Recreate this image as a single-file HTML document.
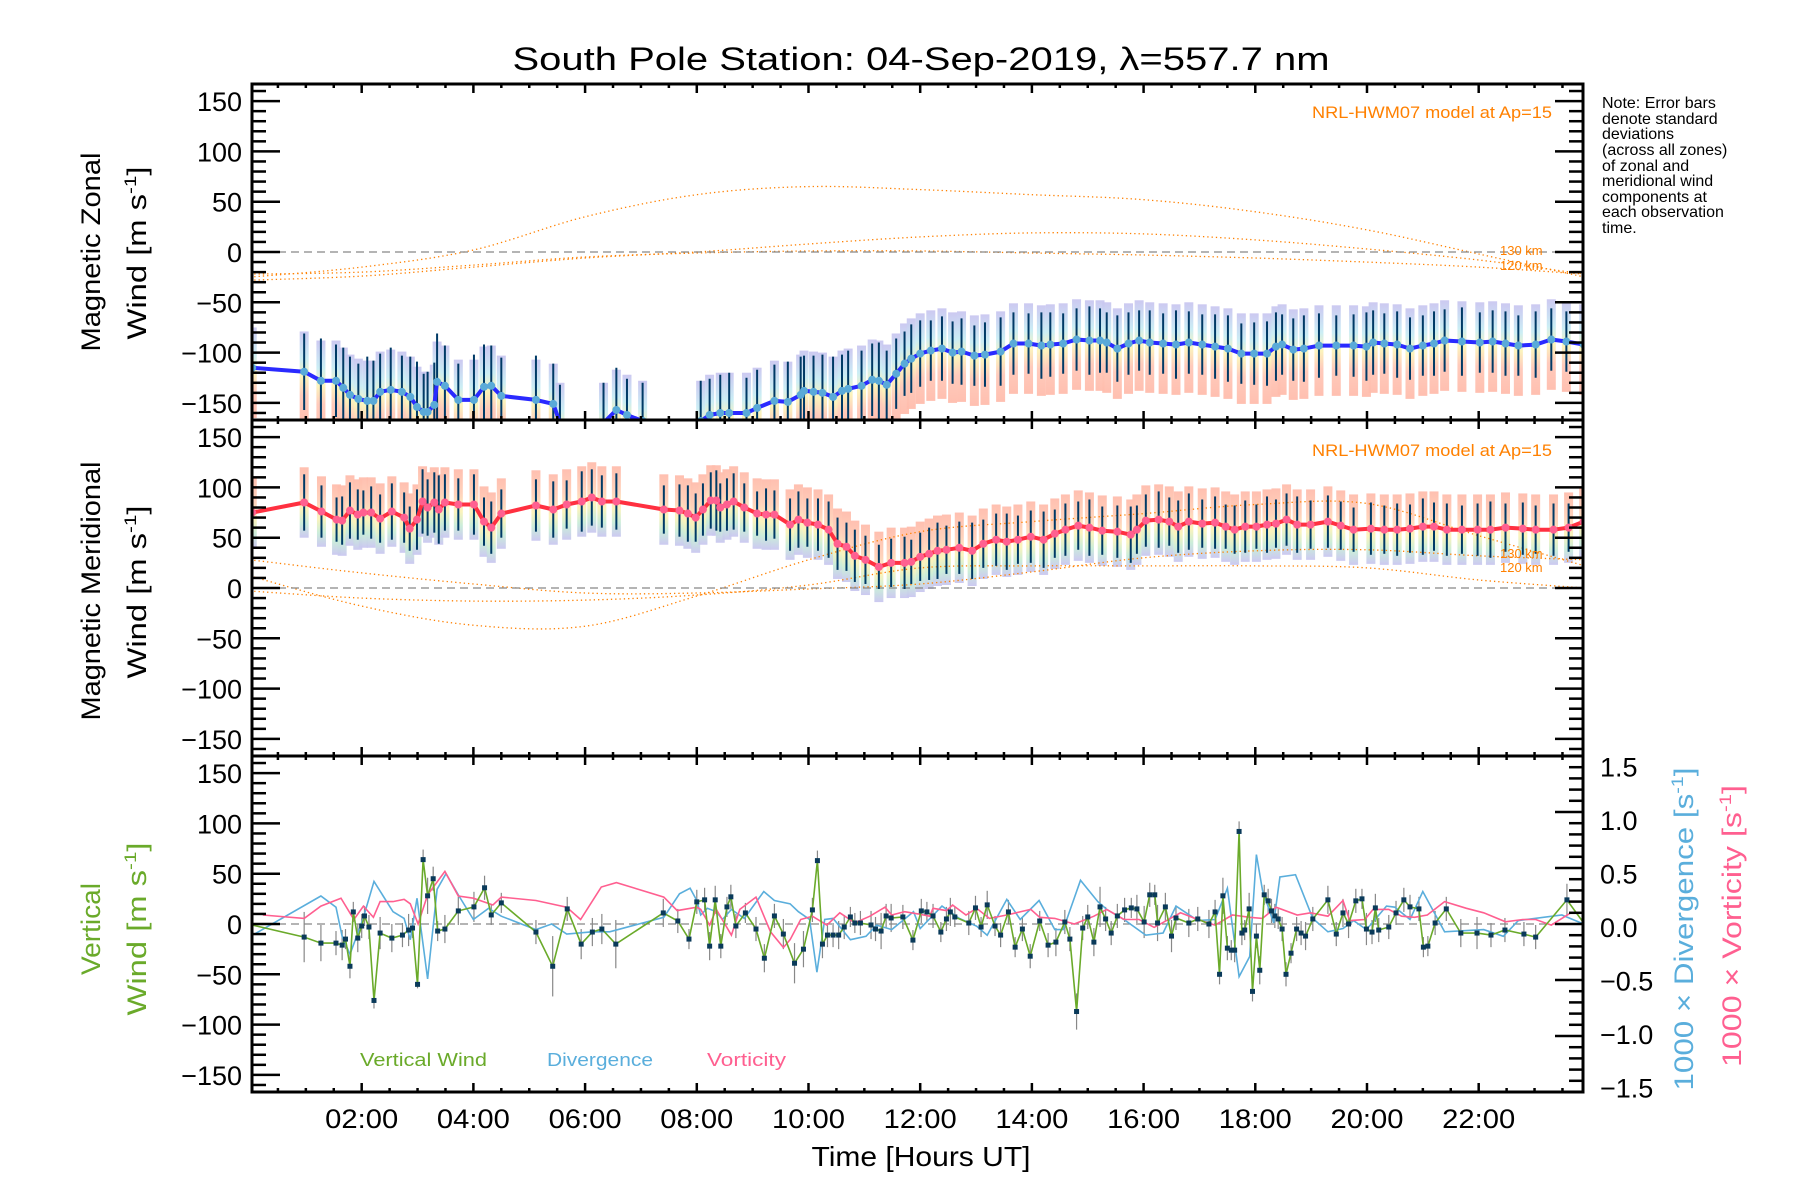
<!DOCTYPE html>
<html><head><meta charset="utf-8">
<style>
html,body{margin:0;padding:0;background:#fff;}
svg{display:block;font-family:"Liberation Sans",sans-serif;}
</style></head>
<body>
<svg id="chart" width="1800" height="1200" viewBox="0 0 1800 1200" xmlns="http://www.w3.org/2000/svg">
<defs>
<clipPath id="clip0"><rect x="252" y="84" width="1331" height="336"/></clipPath>
<clipPath id="clip1"><rect x="252" y="420" width="1331" height="336"/></clipPath>
<clipPath id="clip2"><rect x="252" y="756" width="1331" height="336"/></clipPath>
<linearGradient id="gZon" x1="0" y1="0" x2="0" y2="1">
<stop offset="0" stop-color="#c9c6f0"/><stop offset="0.3" stop-color="#c8ecf4"/><stop offset="0.5" stop-color="#fbf3b8"/><stop offset="0.7" stop-color="#ffc8b8"/><stop offset="1" stop-color="#ffbcac"/></linearGradient>
<linearGradient id="gMer" x1="0" y1="0" x2="0" y2="1">
<stop offset="0" stop-color="#ffbcac"/><stop offset="0.35" stop-color="#ffd0b8"/><stop offset="0.6" stop-color="#fbf3b8"/><stop offset="0.8" stop-color="#c8ecd8"/><stop offset="1" stop-color="#c9c6f0"/></linearGradient>
</defs>
<text x="921" y="70" font-size="32" text-anchor="middle" textLength="817" lengthAdjust="spacingAndGlyphs">South Pole Station: 04-Sep-2019, λ=557.7 nm</text>
<g id="layer-data"></g>
<g id="layer-axes"></g>
<g font-size="16" fill="#000">
<text x="1602" y="108">Note: Error bars</text>
<text x="1602" y="124">denote standard</text>
<text x="1602" y="139">deviations</text>
<text x="1602" y="155">(across all zones)</text>
<text x="1602" y="171">of zonal and</text>
<text x="1602" y="186">meridional wind</text>
<text x="1602" y="202">components at</text>
<text x="1602" y="217">each observation</text>
<text x="1602" y="233">time.</text>
</g>
<text x="1552" y="118" font-size="17" fill="#ff8000" text-anchor="end" textLength="240" lengthAdjust="spacingAndGlyphs">NRL-HWM07 model at Ap=15</text>
<text x="1552" y="456" font-size="17" fill="#ff8000" text-anchor="end" textLength="240" lengthAdjust="spacingAndGlyphs">NRL-HWM07 model at Ap=15</text>
<g font-size="13" fill="#ff8000">
<text x="1500" y="255">130 km</text>
<text x="1500" y="270">120 km</text>
<text x="1500" y="558">130 km</text>
<text x="1500" y="572">120 km</text>
</g>
<g font-size="18">
<text x="360" y="1066" fill="#6aaa2a" textLength="127" lengthAdjust="spacingAndGlyphs">Vertical Wind</text>
<text x="547" y="1066" fill="#5aaedc" textLength="106" lengthAdjust="spacingAndGlyphs">Divergence</text>
<text x="707" y="1066" fill="#ff5f90" textLength="79" lengthAdjust="spacingAndGlyphs">Vorticity</text>
</g>
<text x="921" y="1166" font-size="28" text-anchor="middle" textLength="219" lengthAdjust="spacingAndGlyphs">Time [Hours UT]</text>
<g font-size="27">
<text transform="translate(100,252) rotate(-90)" text-anchor="middle" textLength="199" lengthAdjust="spacingAndGlyphs">Magnetic Zonal</text>
<text transform="translate(146,253) rotate(-90)" text-anchor="middle" textLength="173" lengthAdjust="spacingAndGlyphs">Wind [m s<tspan font-size="17" dy="-10">-1</tspan><tspan dy="10">]</tspan></text>
<text transform="translate(100,591) rotate(-90)" text-anchor="middle" textLength="259" lengthAdjust="spacingAndGlyphs">Magnetic Meridional</text>
<text transform="translate(146,592) rotate(-90)" text-anchor="middle" textLength="173" lengthAdjust="spacingAndGlyphs">Wind [m s<tspan font-size="17" dy="-10">-1</tspan><tspan dy="10">]</tspan></text>
<text transform="translate(100,929) rotate(-90)" text-anchor="middle" fill="#6aaa2a" textLength="92" lengthAdjust="spacingAndGlyphs">Vertical</text>
<text transform="translate(146,929) rotate(-90)" text-anchor="middle" fill="#6aaa2a" textLength="173" lengthAdjust="spacingAndGlyphs">Wind [m s<tspan font-size="17" dy="-10">-1</tspan><tspan dy="10">]</tspan></text>
<text transform="translate(1693,929) rotate(-90)" text-anchor="middle" fill="#5aaedc" textLength="323" lengthAdjust="spacingAndGlyphs">1000 × Divergence [s<tspan font-size="17" dy="-10">-1</tspan><tspan dy="10">]</tspan></text>
<text transform="translate(1741,926) rotate(-90)" text-anchor="middle" fill="#ff5f90" textLength="282" lengthAdjust="spacingAndGlyphs">1000 × Vorticity [s<tspan font-size="17" dy="-10">-1</tspan><tspan dy="10">]</tspan></text>
</g>
</svg>
<script>
// ---- data ----
const zonalT = [0.04,0.97,1.27,1.54,1.67,1.79,1.94,2.10,2.21,2.33,2.52,2.72,2.87,2.99,3.11,3.18,3.30,3.35,3.49,3.73,4.01,4.19,4.32,4.50,5.12,5.43,5.55,6.33,6.56,6.75,7.03,8.07,8.23,8.42,8.58,8.89,9.08,9.39,9.63,9.86,9.92,10.09,10.25,10.44,10.60,10.71,10.95,11.14,11.26,11.40,11.57,11.72,11.84,12.00,12.19,12.39,12.58,12.74,12.97,13.16,13.44,13.67,13.94,14.17,14.33,14.56,14.80,15.03,15.22,15.34,15.53,15.73,15.92,16.11,16.35,16.58,16.81,17.05,17.28,17.51,17.75,17.98,18.21,18.37,18.48,18.68,18.87,19.14,19.45,19.76,19.99,20.11,20.31,20.54,20.77,21.00,21.20,21.39,21.70,22.02,22.25,22.48,22.71,23.02,23.30,23.57,23.88];
const zonalV = [-115,-119,-128,-128,-135,-142,-146,-148,-148,-139,-137,-139,-144,-154,-159,-159,-152,-129,-133,-147,-147,-134,-133,-143,-147,-151,-170,-170,-157,-162,-168,-168,-162,-160,-160,-160,-155,-148,-149,-142,-138,-139,-140,-144,-138,-136,-133,-127,-128,-132,-121,-111,-106,-101,-98,-96,-100,-99,-103,-102,-99,-91,-91,-93,-92,-91,-87,-88,-88,-90,-96,-91,-88,-90,-91,-92,-90,-92,-94,-96,-101,-101,-101,-94,-92,-97,-96,-93,-93,-93,-94,-90,-91,-92,-96,-93,-91,-88,-89,-90,-89,-91,-93,-92,-87,-89,-92];
const zonalErr = [40,38,42,36,40,38,35,44,40,38,42,36,40,45,38,40,42,48,40,36,45,42,40,38,44,40,38,40,42,36,38,40,36,38,40,35,38,36,40,38,35,36,38,40,36,38,35,36,38,34,35,32,34,33,30,32,31,33,30,32,34,31,30,33,32,30,31,34,32,30,33,31,30,32,30,34,31,30,32,33,30,31,32,34,30,31,33,32,30,31,34,32,30,33,31,30,32,31,34,30,31,32,30,33,31,30,32];
const meridT = [0.04,0.97,1.28,1.55,1.65,1.79,1.93,2.03,2.17,2.33,2.54,2.76,2.86,2.99,3.09,3.18,3.30,3.38,3.49,3.73,4.01,4.19,4.32,4.50,5.12,5.43,5.67,5.94,6.12,6.30,6.56,7.41,7.69,7.84,7.98,8.11,8.25,8.35,8.42,8.54,8.66,8.85,9.08,9.24,9.39,9.67,9.82,9.98,10.17,10.36,10.52,10.68,10.83,11.02,11.26,11.48,11.72,11.84,12.00,12.16,12.31,12.47,12.70,12.93,13.13,13.36,13.55,13.75,13.98,14.21,14.41,14.60,14.83,15.03,15.26,15.53,15.77,15.88,16.04,16.27,16.46,16.62,16.81,17.05,17.28,17.47,17.63,17.82,18.02,18.21,18.37,18.56,18.75,18.99,19.30,19.53,19.76,20.07,20.31,20.54,20.77,21.00,21.20,21.43,21.70,21.98,22.21,22.48,22.79,23.02,23.34,23.61,23.88];
const meridV = [75,85,76,68,67,77,73,75,75,69,76,70,59,68,86,80,85,78,85,83,83,66,60,74,82,78,83,86,90,86,86,78,77,74,70,78,87,87,80,83,86,80,74,73,73,63,68,65,63,58,44,41,32,28,21,25,25,26,31,34,37,38,40,37,44,48,46,48,51,48,54,58,62,60,57,56,53,58,67,68,66,61,66,64,65,61,58,61,61,63,64,68,63,63,66,62,58,59,58,58,59,61,61,58,58,58,58,60,59,58,58,60,66];
const meridErr = [30,28,26,22,24,28,25,22,26,24,28,25,22,30,32,28,30,34,28,26,30,24,26,24,26,28,24,30,28,26,28,24,26,28,24,26,28,30,24,26,28,24,22,26,24,26,28,24,26,28,26,24,26,24,22,24,26,22,24,26,28,24,26,28,24,26,28,24,26,28,24,26,24,28,24,26,28,24,26,28,24,26,28,24,26,22,24,26,22,28,24,26,28,24,26,24,22,26,24,26,24,28,24,26,24,26,28,24,26,24,26,24,26];
const vwT = [0.04,0.97,1.27,1.54,1.65,1.71,1.79,1.85,1.93,2.00,
 2.05,2.13,2.22,2.33,2.54,2.73,2.84,2.91,3.00,3.10,
 3.18,3.28,3.36,3.49,3.73,4.01,4.20,4.32,4.50,5.12,
 5.42,5.68,5.93,6.13,6.30,6.55,7.40,7.66,7.86,8.00,
 8.14,8.23,8.33,8.43,8.54,8.61,8.70,8.87,9.06,9.21,
 9.39,9.55,9.75,9.91,10.07,10.16,10.25,10.34,10.44,10.54,
 10.64,10.75,10.83,10.93,11.12,11.20,11.30,11.39,11.48,11.69,
 11.87,12.02,12.12,12.23,12.37,12.47,12.54,12.62,12.87,12.99,
 13.09,13.20,13.34,13.44,13.58,13.70,13.83,13.97,14.14,14.29,
 14.43,14.59,14.68,14.80,14.91,15.00,15.11,15.22,15.32,15.42,
 15.53,15.66,15.78,15.88,16.01,16.11,16.20,16.25,16.39,16.50,
 16.58,16.81,16.97,17.17,17.28,17.36,17.42,17.50,17.57,17.63,
 17.71,17.76,17.81,17.89,17.95,18.02,18.08,18.16,18.23,18.29,
 18.35,18.41,18.48,18.55,18.64,18.74,18.82,18.90,19.03,19.30,
 19.45,19.57,19.67,19.80,19.91,19.99,20.09,20.15,20.21,20.39,
 20.52,20.66,20.77,20.93,21.01,21.09,21.22,21.42,21.68,21.97,
 22.22,22.47,22.81,23.02,23.58,23.88];
const vwV = [-1,-13,-19,-19,-21,-15,-42,12,-14,-2,
 8,-3,-76,-9,-14,-11,-6,-4,-60,64,
 28,45,-7,-5,13,17,36,9,21,-8,
 -42,15,-20,-8,-5,-20,11,3,-15,22,
 24,-22,24,-22,17,27,-2,11,-5,-34,
 8,-10,-39,-25,14,63,-20,-11,-11,-11,
 -3,7,1,1,-1,-5,-7,8,6,7,
 -16,13,12,8,-8,5,12,7,1,16,
 -3,19,-2,-11,12,-23,-5,-32,3,-21,
 -18,2,-15,-87,-4,7,-18,17,5,-9,
 8,14,16,15,2,29,29,1,17,-12,
 6,1,5,0,12,-50,28,-24,-26,-26,
 92,-9,-6,15,-67,-12,-46,29,23,13,
 8,5,-5,-50,-29,-5,-9,-12,5,24,
 -10,11,0,23,25,-5,-8,16,-6,-3,
 11,24,17,15,-23,-22,1,15,-9,-9,
 -11,-6,-10,-13,24,1];
const vwErr = [0,25,18,12,15,10,12,10,14,12,
 10,12,8,16,14,12,16,10,4,10,
 18,12,10,14,14,15,12,10,10,12,
 30,12,15,14,15,24,14,12,10,12,
 12,14,14,12,10,12,12,10,12,14,
 12,15,20,18,12,10,14,12,12,14,
 12,10,10,12,14,12,18,12,14,12,
 10,12,10,12,10,12,14,10,12,12,
 10,14,10,12,12,10,12,12,10,12,
 14,12,12,18,12,12,14,20,12,12,
 12,12,10,14,16,12,10,18,14,16,
 12,14,12,14,12,10,18,12,10,12,
 10,12,10,16,10,12,14,10,12,12,
 12,10,12,12,10,12,12,14,12,14,
 12,14,14,12,10,16,12,14,12,12,
 12,12,12,12,10,10,12,12,14,16,
 12,12,12,12,16,12];
const divT = [0.08,1.27,1.54,1.65,1.79,2.02,2.22,2.56,2.76,2.87,2.99,3.18,3.35,3.51,3.73,4.00,4.27,4.50,5.12,5.40,5.67,6.13,6.44,7.41,7.69,7.88,8.00,8.07,8.19,8.35,8.46,8.62,8.85,9.20,9.39,9.67,9.82,10.02,10.15,10.29,10.44,10.75,11.03,11.22,11.49,11.88,12.00,12.39,12.70,13.01,13.20,13.55,13.79,14.13,14.41,14.56,14.87,15.18,15.34,15.65,16.04,16.35,16.58,16.97,17.28,17.50,17.71,17.90,18.02,18.13,18.33,18.44,18.72,19.03,19.30,19.57,19.76,19.99,20.35,20.50,20.77,21.00,21.39,22.09,22.44,22.71,23.49,23.88];
const divV = [-0.09,0.25,0.15,-0.11,-0.27,0.04,0.38,0.11,0.05,-0.14,0.23,-0.49,0.31,0.45,0.26,0.04,0.14,0.07,-0.05,0,-0.09,-0.07,-0.07,0.06,0.27,0.32,0.21,0.08,0.14,0.11,0.04,0.13,0.05,0.29,0.21,0.18,0.11,0.04,-0.43,0.04,0.05,-0.14,-0.11,-0.01,-0.05,0.11,-0.04,0.16,0.05,-0.02,-0.10,0.22,0.04,0.21,-0.05,-0.05,0.39,0.20,0.13,0.04,-0.10,-0.08,0.16,0.03,0.04,0.32,-0.47,-0.29,0.62,0.30,0.01,0.42,0.44,0.05,-0.07,-0.04,0.03,-0.05,0.16,0.15,0.04,0.29,-0.07,-0.05,-0.11,0.03,0.08,0.0];
const vorT = [0.23,0.97,1.27,1.63,1.86,2.03,2.21,2.33,2.56,2.76,2.87,3.01,3.18,3.49,3.73,4.00,4.35,4.50,5.12,5.67,5.92,6.29,6.56,7.41,7.65,8.00,8.07,8.23,8.35,8.62,8.77,9.06,9.32,9.55,9.67,9.86,10.07,10.33,10.56,10.83,11.10,11.37,11.49,11.72,11.96,12.17,12.23,12.47,12.58,12.82,13.01,13.24,13.55,13.98,14.14,14.41,14.76,15.11,15.34,15.65,15.92,16.19,16.66,16.97,17.28,17.59,17.90,18.13,18.37,18.75,18.99,19.30,19.57,19.69,19.96,20.11,20.39,20.62,20.85,21.08,21.39,21.78,22.09,22.48,22.79,23.02,23.30,23.65,23.88];
const vorV = [0.08,0.05,0.16,0.23,0.04,0.16,0.06,0.20,0.20,0.22,0.18,0,0.26,0.47,0.25,0.23,0.17,0.24,0.21,0.15,0.04,0.33,0.37,0.24,0.12,0.15,0.13,-0.01,0.13,-0.10,0.13,0.24,-0.07,-0.21,-0.14,0.04,0.07,-0.01,0.10,0.01,0.07,0.15,0.08,0.11,0.09,0.07,0.14,0.12,0.17,0.08,0.14,0.05,0.08,0.13,0.06,0.05,0,0.07,0.13,0.04,0.04,-0.03,0.10,0.04,-0.01,0.08,0.06,0.05,0.15,0.08,0.10,0.07,0.21,0.03,0.04,0.13,0.13,0.07,0.06,0.08,0.20,0.14,0.10,0.02,0.04,0.04,-0.01,0.10,0.10];
const modelT = [0,2,4,6,8,10,12,14,16,18,20,22,23.9];
const zonModelA = [-25,-15,2,35,57,65,62,57,52,40,22,-2,-25];
const zonModelB = [-28,-24,-15,-6,0,8,15,19,18,12,3,-8,-22];
const zonModelC = [-22,-20,-13,-5,-1,1,1,-1,-3,-6,-10,-15,-22];
const merModelA = [12,-18,-37,-38,-8,28,56,66,74,83,84,52,22];
const merModelB = [28,15,4,-5,-5,-1,4,16,30,37,38,32,28];
const merModelC = [-3,-10,-13,-12,-7,3,20,22,22,22,20,8,0];
const leftTicks = [150,100,50,0,-50,-100,-150];
const rightTicks = [1.5,1.0,0.5,0.0,-0.5,-1.0,-1.5];
const xTickHours = [2,4,6,8,10,12,14,16,18,20,22];

// ---- scales ----
const NS = 'http://www.w3.org/2000/svg';
const X0 = 252, X1 = 1583, PH = 336;
const T0 = 0.036, PXH = 55.85;
function X(t){ return X0 + (t - T0) * PXH; }
function Y(p, v){ return 84 + PH*p + 168 - v * 168/167; }
function YR(v){ return 924 - v * 112; }
function el(tag, attrs, parent){ const e = document.createElementNS(NS, tag); for (const k in attrs) e.setAttribute(k, attrs[k]); parent.appendChild(e); return e; }
const dataL = document.getElementById('layer-data');
const axL = document.getElementById('layer-axes');
function fmtTick(v){ return (v < 0 ? '\u2212' : '') + Math.abs(v); }

function smoothPath(ts, vs, yf){
  const pts = ts.map((t,i)=>[X(t), yf(vs[i])]);
  let d = 'M' + pts[0][0].toFixed(1) + ',' + pts[0][1].toFixed(1);
  for (let i=0;i<pts.length-1;i++){
    const p0 = pts[i-1]||pts[i], p1=pts[i], p2=pts[i+1], p3=pts[i+2]||pts[i+1];
    const c1=[p1[0]+(p2[0]-p0[0])/6, p1[1]+(p2[1]-p0[1])/6];
    const c2=[p2[0]-(p3[0]-p1[0])/6, p2[1]-(p3[1]-p1[1])/6];
    d += ' C'+c1[0].toFixed(1)+','+c1[1].toFixed(1)+' '+c2[0].toFixed(1)+','+c2[1].toFixed(1)+' '+p2[0].toFixed(1)+','+p2[1].toFixed(1);
  }
  return d;
}
function poly(ts, vs, yf){ return ts.map((t,i)=>X(t).toFixed(1)+','+yf(vs[i]).toFixed(1)).join(' '); }

// ---- panel 0: zonal ----
const g0 = el('g', {'clip-path':'url(#clip0)'}, dataL);


zonalT.forEach((t,i)=>{
  const v = zonalV[i];
  const r = el('rect', {x:X(t)-4.5, y:Y(0,v+40), width:9, height:Y(0,v-50)-Y(0,v+40), fill:'url(#gZon)', opacity:0.95}, g0);
  
  
});
[zonModelA, zonModelB, zonModelC].forEach((arr,k)=>{
  const p = el('path', {d:smoothPath(modelT, arr, v=>Y(0,v)), fill:'none', stroke:'#ff8000', 'stroke-width':1.3, 'stroke-dasharray':'1.3 3'}, g0);
  
  
});
el('line', {x1:X0, x2:X1, y1:Y(0,0), y2:Y(0,0), stroke:'#888', 'stroke-width':1.2, 'stroke-dasharray':'8 5'}, g0);
zonalT.forEach((t,i)=>{
  const e = el('line', {x1:X(t), x2:X(t), y1:Y(0,zonalV[i]+zonalErr[i]), y2:Y(0,zonalV[i]-zonalErr[i]), stroke:'#003a66', 'stroke-width':2}, g0);
  
  
});
const zl = el('polyline', {points:poly(zonalT, zonalV, v=>Y(0,v)), fill:'none', stroke:'#2a2aff', 'stroke-width':4, 'stroke-linejoin':'round'}, g0);


zonalT.forEach((t,i)=>{
  const c = el('circle', {cx:X(t), cy:Y(0,zonalV[i]), r:4, fill:'#5aaad8'}, g0);
  
  
});

// ---- panel 1: meridional ----
const g1 = el('g', {'clip-path':'url(#clip1)'}, dataL);


meridT.forEach((t,i)=>{
  const v = meridV[i];
  const r = el('rect', {x:X(t)-4.5, y:Y(1,v+35), width:9, height:Y(1,v-35)-Y(1,v+35), fill:'url(#gMer)', opacity:0.95}, g1);
  
  
});
[merModelA, merModelB, merModelC].forEach((arr)=>{
  const p = el('path', {d:smoothPath(modelT, arr, v=>Y(1,v)), fill:'none', stroke:'#ff8000', 'stroke-width':1.3, 'stroke-dasharray':'1.3 3'}, g1);
  
  
});
el('line', {x1:X0, x2:X1, y1:Y(1,0), y2:Y(1,0), stroke:'#888', 'stroke-width':1.2, 'stroke-dasharray':'8 5'}, g1);
meridT.forEach((t,i)=>{
  const e = el('line', {x1:X(t), x2:X(t), y1:Y(1,meridV[i]+meridErr[i]), y2:Y(1,meridV[i]-meridErr[i]), stroke:'#003a66', 'stroke-width':2}, g1);
  
  
});
const ml = el('polyline', {points:poly(meridT, meridV, v=>Y(1,v)), fill:'none', stroke:'#ff3040', 'stroke-width':4, 'stroke-linejoin':'round'}, g1);


meridT.forEach((t,i)=>{
  const c = el('circle', {cx:X(t), cy:Y(1,meridV[i]), r:4, fill:'#ff6090'}, g1);
  
  
});

// ---- panel 2: vertical ----
const g2 = el('g', {'clip-path':'url(#clip2)'}, dataL);


el('line', {x1:X0, x2:X1, y1:Y(2,0), y2:Y(2,0), stroke:'#888', 'stroke-width':1.2, 'stroke-dasharray':'8 5'}, g2);
vwT.forEach((t,i)=>{
  if (!vwErr[i]) return;
  const e = el('line', {x1:X(t), x2:X(t), y1:Y(2,vwV[i]+vwErr[i]), y2:Y(2,vwV[i]-vwErr[i]), stroke:'#888', 'stroke-width':1.2}, g2);
  
  
});
const dl = el('polyline', {points:poly(divT, divV, YR), fill:'none', stroke:'#5aaedc', 'stroke-width':1.6}, g2);


const vl2 = el('polyline', {points:poly(vorT, vorV, YR), fill:'none', stroke:'#ff5f90', 'stroke-width':1.6}, g2);


const wl = el('polyline', {points:poly(vwT, vwV, v=>Y(2,v)), fill:'none', stroke:'#6aaa2a', 'stroke-width':1.6}, g2);


vwT.forEach((t,i)=>{
  if (i===0 || i===vwT.length-1) return;
  const s = el('rect', {x:X(t)-2.5, y:Y(2,vwV[i])-2.5, width:5, height:5, fill:'#0a3a5a'}, g2);
  
  
});

// ---- axes ----
for (let p=0;p<3;p++){
  const top = 84 + PH*p, bot = top + PH;
  const fr = el('rect', {x:X0, y:top, width:X1-X0, height:PH, fill:'none', stroke:'#000', 'stroke-width':3}, axL);
  
  
  for (let v=-160; v<=160; v+=10){
    const y = Y(p,v); const major = v%50===0; const L = major?28:14;
    el('line', {x1:X0, x2:X0+L, y1:y, y2:y, stroke:'#000', 'stroke-width':2.5}, axL);
    if (p<2) el('line', {x1:X1, x2:X1-L, y1:y, y2:y, stroke:'#000', 'stroke-width':2.5}, axL);
  }
  leftTicks.forEach(v=>{
    const tx = el('text', {x:242, y:Y(p,v)+10, 'font-size':27, 'text-anchor':'end'}, axL);
    tx.textContent = fmtTick(v);
    
    
  });
  for (let h=0.5; h<24; h+=0.5){
    const x = X(h); if (x < X0+2 || x > X1-2) continue;
    const L = (h%2===0)?9:4;
    el('line', {x1:x, x2:x, y1:top, y2:top+L, stroke:'#000', 'stroke-width':2.5}, axL);
    el('line', {x1:x, x2:x, y1:bot, y2:bot-L, stroke:'#000', 'stroke-width':2.5}, axL);
  }
}
for (let k=-15; k<=15; k++){
  const v = k/10; const major = (k%5===0); const L = major?28:14;
  el('line', {x1:X1, x2:X1-L, y1:YR(v), y2:YR(v), stroke:'#000', 'stroke-width':2.5}, axL);
}
rightTicks.forEach(v=>{
  const tx = el('text', {x:1600, y:929 - v*107 + 8, 'font-size':27}, axL);
  tx.textContent = (v<0?'\u2212':'') + Math.abs(v).toFixed(1);
  
  
});
xTickHours.forEach(h=>{
  const tx = el('text', {x:X(h), y:1128, 'font-size':27, 'text-anchor':'middle', textLength:73, lengthAdjust:'spacingAndGlyphs'}, axL);
  tx.textContent = (h<10?'0':'') + h + ':00';
  
  
});
</script>
</body></html>
